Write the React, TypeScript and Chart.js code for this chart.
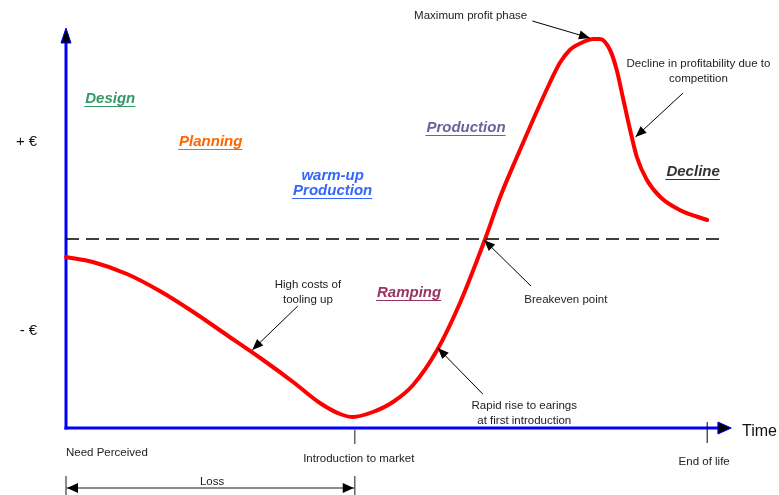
import React, { useEffect, useRef } from "react";
import { Chart, registerables } from "chart.js";

Chart.register(...registerables);

// Product life-cycle profit curve (time in % of life, profit in € units; 0 = breakeven)
const timeValues = [0, 4.0, 9.1, 14.0, 19.0, 24.0, 29.0, 33.9, 37.9, 40.9, 42.8, 45.8, 48.8, 51.8, 55.4, 58.8, 62.5, 64.8, 67.3, 69.7, 72.2, 73.7, 75.2, 77.2, 78.7, 79.7, 81.2, 82.2, 83.1, 84.2, 85.2, 86.7, 88.7, 91.6, 95.7];
const profitValues = [-18, -23, -35, -52, -73, -96, -119, -143, -164, -175, -178, -173, -163, -146, -111, -64, -1, 42, 82, 119, 156, 176, 189, 197, 200, 200, 189, 169, 142, 109, 82, 59, 42, 29, 19];

const breakevenTimes = [0, 97.6];
const breakevenValues = [0, 0];

const milestoneLabels = ["Need Perceived", "Introduction to market", "End of life"];
const milestoneTimes = [0, 43.1, 95.7];

const phaseLabels = [["Design"], ["Planning"], ["warm-up", "Production"], ["Production"], ["Ramping"], ["Decline"]];
const phaseTimes = [6.6, 21.6, 39.8, 59.7, 51.2, 93.6];
const phaseValues = [140, 97, 63, 111, -54, 67];

const noteLabels = [
  ["Maximum profit phase"],
  ["Decline in profitability due to", "competition"],
  ["High costs of", "tooling up"],
  ["Breakeven point"],
  ["Rapid rise to earings", "at first introduction"],
];
const noteTimes = [60.4, 94.4, 36.1, 74.6, 68.4];
const noteValues = [223, 175, -46, -61, -167];
const noteArrowFromTimes = [69.6, 92.1, 34.6, 69.4, 62.2];
const noteArrowFromValues = [218, 146, -67, -47, -155];
const noteArrowToTimes = [78.2, 85.0, 27.8, 62.4, 55.5];
const noteArrowToValues = [201, 102, -111, -1, -109];

const lossLabel = "Loss";
const timeAxisLabel = "Time";
const plusLabel = "+ €";
const minusLabel = "- €";

const Y_MIN = -189;
const Y_MAX = 209;

const phaseColors = ["#339966", "#ff6600", "#3366ff", "#666699", "#993366", "#333333"];
const FONT = "'Liberation Sans', Arial, Helvetica, sans-serif";

function arrowHead(ctx: CanvasRenderingContext2D, x1: number, y1: number, x2: number, y2: number, len: number, halfW: number) {
  const a = Math.atan2(y2 - y1, x2 - x1);
  const bx = x2 - len * Math.cos(a);
  const by = y2 - len * Math.sin(a);
  ctx.beginPath();
  ctx.moveTo(x2, y2);
  ctx.lineTo(bx + halfW * Math.sin(a), by - halfW * Math.cos(a));
  ctx.lineTo(bx - halfW * Math.sin(a), by + halfW * Math.cos(a));
  ctx.closePath();
  ctx.fill();
}

function arrow(ctx: CanvasRenderingContext2D, x1: number, y1: number, x2: number, y2: number, color: string) {
  ctx.save();
  ctx.strokeStyle = color;
  ctx.fillStyle = "#000";
  ctx.lineWidth = 1;
  ctx.beginPath();
  ctx.moveTo(x1, y1);
  ctx.lineTo(x2, y2);
  ctx.stroke();
  arrowHead(ctx, x1, y1, x2, y2, 11, 4.5);
  ctx.restore();
}

const axesPlugin = {
  id: "lifecycleAxes",
  beforeDatasetsDraw(chart: any) {
    const ctx: CanvasRenderingContext2D = chart.ctx;
    const xs = chart.scales.x;
    const ys = chart.scales.y;
    const X = (v: number) => xs.getPixelForValue(v);
    const Y = (v: number) => ys.getPixelForValue(v);
    const x0 = X(0);
    const yb = Y(Y_MIN);
    ctx.save();
    // y axis
    ctx.strokeStyle = "#0000ff";
    ctx.lineWidth = 3;
    ctx.beginPath();
    ctx.moveTo(x0, yb + 1.5);
    ctx.lineTo(x0, Y(196));
    ctx.stroke();
    ctx.fillStyle = "#000";
    ctx.strokeStyle = "#0000ff";
    ctx.lineWidth = 1;
    ctx.beginPath();
    ctx.moveTo(x0, Y(211));
    ctx.lineTo(x0 - 5, Y(196));
    ctx.lineTo(x0 + 5, Y(196));
    ctx.closePath();
    ctx.fill();
    ctx.stroke();
    // x axis
    ctx.strokeStyle = "#0000ff";
    ctx.lineWidth = 3;
    ctx.beginPath();
    ctx.moveTo(x0 - 1.5, yb);
    ctx.lineTo(X(97.4), yb);
    ctx.stroke();
    ctx.lineWidth = 1;
    ctx.beginPath();
    ctx.moveTo(X(99.3), yb);
    ctx.lineTo(X(97.3), yb - 6);
    ctx.lineTo(X(97.3), yb + 6);
    ctx.closePath();
    ctx.fill();
    ctx.stroke();
    ctx.restore();
  },
  afterDatasetsDraw(chart: any) {
    const ctx: CanvasRenderingContext2D = chart.ctx;
    const xs = chart.scales.x;
    const ys = chart.scales.y;
    const X = (v: number) => xs.getPixelForValue(v);
    const Y = (v: number) => ys.getPixelForValue(v);
    const yb = Y(Y_MIN);
    ctx.save();
    ctx.textBaseline = "middle";

    // axis labels
    ctx.fillStyle = "#111";
    ctx.font = `15px ${FONT}`;
    ctx.textAlign = "right";
    ctx.fillText(plusLabel, X(-4.3), Y(97));
    ctx.fillText(minusLabel, X(-4.3), Y(-92));
    ctx.font = `16px ${FONT}`;
    ctx.textAlign = "left";
    ctx.fillText(timeAxisLabel, X(100.9), Y(-193));

    // milestones
    ctx.font = `11.5px ${FONT}`;
    ctx.fillStyle = "#222";
    ctx.textAlign = "left";
    ctx.fillText(milestoneLabels[0], X(milestoneTimes[0]), Y(-214));
    ctx.textAlign = "center";
    ctx.fillText(milestoneLabels[1], X(milestoneTimes[1]) + 4, Y(-220));
    ctx.fillText(milestoneLabels[2], X(milestoneTimes[2]) - 3, Y(-223));
    ctx.lineWidth = 1.5;
    ctx.strokeStyle = "#666";
    ctx.beginPath();
    ctx.moveTo(X(milestoneTimes[1]), yb + 2);
    ctx.lineTo(X(milestoneTimes[1]), Y(-205));
    ctx.stroke();
    ctx.strokeStyle = "#000";
    ctx.lineWidth = 1;
    ctx.beginPath();
    ctx.moveTo(X(milestoneTimes[2]), yb - 6);
    ctx.lineTo(X(milestoneTimes[2]), Y(-204));
    ctx.stroke();

    // loss span
    const la = X(milestoneTimes[0]);
    const lb = X(milestoneTimes[1]);
    const ly = Y(-249);
    ctx.strokeStyle = "#666";
    ctx.lineWidth = 1.5;
    ctx.beginPath();
    ctx.moveTo(la, ly);
    ctx.lineTo(lb, ly);
    ctx.moveTo(la, Y(-237));
    ctx.lineTo(la, Y(-258));
    ctx.moveTo(lb, Y(-237));
    ctx.lineTo(lb, Y(-258));
    ctx.stroke();
    ctx.fillStyle = "#000";
    arrowHead(ctx, lb, ly, la + 1, ly, 11, 5);
    arrowHead(ctx, la, ly, lb - 1, ly, 11, 5);
    ctx.fillStyle = "#222";
    ctx.font = `11.5px ${FONT}`;
    ctx.fillText(lossLabel, X(21.8), Y(-243));

    // phase labels (bold italic underlined)
    ctx.font = `italic bold 15px ${FONT}`;
    ctx.textAlign = "center";
    phaseLabels.forEach((lines, i) => {
      ctx.fillStyle = phaseColors[i];
      ctx.strokeStyle = phaseColors[i];
      ctx.lineWidth = 1.2;
      lines.forEach((t, j) => {
        const cx = X(phaseTimes[i]);
        const cy = Y(phaseValues[i]) + j * 15;
        ctx.fillText(t, cx, cy);
        const w = ctx.measureText(t).width;
        if (j === lines.length - 1) {
          ctx.beginPath();
          ctx.moveTo(cx - w / 2 - 1, cy + 7.5);
          ctx.lineTo(cx + w / 2, cy + 7.5);
          ctx.stroke();
        }
      });
    });

    // notes with arrows
    ctx.font = `11.5px ${FONT}`;
    noteLabels.forEach((lines, i) => {
      ctx.fillStyle = "#222";
      lines.forEach((t, j) => {
        ctx.fillText(t, X(noteTimes[i]), Y(noteValues[i]) + j * 14.5);
      });
      arrow(ctx, X(noteArrowFromTimes[i]), Y(noteArrowFromValues[i]), X(noteArrowToTimes[i]), Y(noteArrowToValues[i]), "#000");
    });

    ctx.restore();
  },
};

export default function App() {
  const canvasRef = useRef<HTMLCanvasElement | null>(null);

  useEffect(() => {
    if (!canvasRef.current) return;
    const chart = new Chart(canvasRef.current, {
      type: "line",
      data: {
        datasets: [
          {
            label: "Breakeven",
            data: breakevenTimes.map((x, i) => ({ x, y: breakevenValues[i] })),
            borderColor: "#000",
            borderWidth: 1.5,
            borderDash: [13, 7],
            pointRadius: 0,
            tension: 0,
            clip: false as any,
          },
          {
            label: "Profit",
            data: timeValues.map((x, i) => ({ x, y: profitValues[i] })),
            borderColor: "#ff0000",
            borderWidth: 4,
            pointRadius: 0,
            cubicInterpolationMode: "monotone",
            borderCapStyle: "round",
            borderJoinStyle: "round",
            clip: false as any,
          },
        ],
      },
      options: {
        responsive: false,
        animation: false,
        devicePixelRatio: 1,
        layout: { padding: { left: 66, right: 43, top: 30, bottom: 67 } },
        plugins: { legend: { display: false }, tooltip: { enabled: false } },
        scales: {
          x: { type: "linear", min: 0, max: 100, display: false },
          y: { type: "linear", min: Y_MIN, max: Y_MAX, display: false },
        },
      },
      plugins: [axesPlugin],
    });
    return () => chart.destroy();
  }, []);

  return (
    <div style={{ position: "fixed", left: 0, top: 0, width: 779, height: 495, background: "#fff" }}>
      <canvas ref={canvasRef} width={779} height={495} style={{ display: "block" }} />
    </div>
  );
}
